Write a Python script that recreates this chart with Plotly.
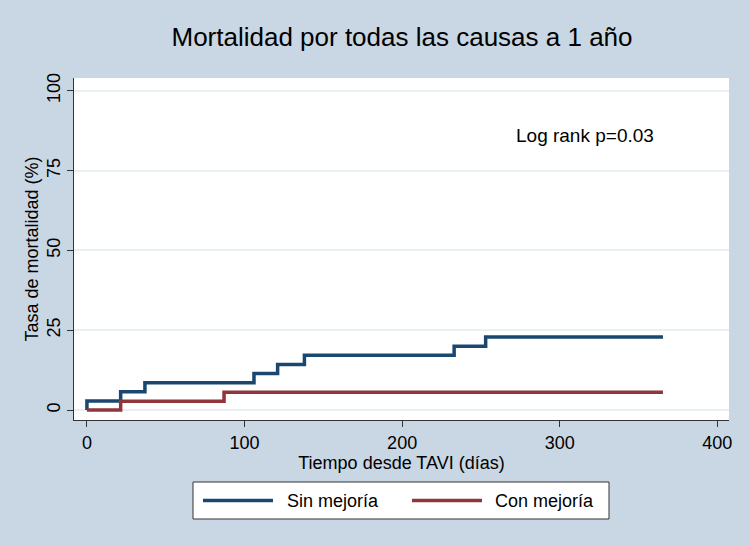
import plotly.graph_objects as go

# Data
sin_t = [0, 0, 21.4, 36.8, 106, 121, 138, 233, 253, 365.5]
sin_y = [0, 2.86, 5.71, 8.57, 11.43, 14.29, 17.14, 20.0, 22.86, 22.86]
con_t = [0, 21.4, 87, 365.5]
con_y = [0, 2.78, 5.56, 5.56]
series_names = ["Sin mejoría", "Con mejoría"]
x_ticks = [0, 100, 200, 300, 400]
y_ticks = [0, 25, 50, 75, 100]

BG = "#c9d6e3"
NAVY = "#1a476f"
MAROON = "#90353b"
FONT = "Liberation Sans, Arial, sans-serif"
colors = [NAVY, MAROON]

fig = go.Figure()
fig.add_trace(go.Scatter(x=sin_t, y=sin_y, mode="lines", line_shape="hv",
                         line=dict(color=NAVY, width=3.5), name=series_names[0]))
fig.add_trace(go.Scatter(x=con_t, y=con_y, mode="lines", line_shape="hv",
                         line=dict(color=MAROON, width=3.5), name=series_names[1]))

fig.add_annotation(x=316, y=86, xref="x", yref="y", text="Log rank p=0.03",
                   showarrow=False, font=dict(size=19, color="black", family=FONT))

# custom legend box (paper coordinates)
fig.add_shape(type="rect", xref="paper", yref="paper", x0=0.1817, x1=0.8168,
              y0=-0.2895, y1=-0.1813, line=dict(color="#333", width=1),
              fillcolor="white", layer="above")
leg_y = -0.2354
for (lx0, lx1, tx), name, col in zip([(0.1969, 0.3038, 0.3221), (0.5160, 0.6229, 0.6397)],
                                     series_names, colors):
    fig.add_shape(type="line", xref="paper", yref="paper", x0=lx0, x1=lx1,
                  y0=leg_y, y1=leg_y, line=dict(color=col, width=3.5), layer="above")
    fig.add_annotation(x=tx, y=leg_y, xref="paper", yref="paper", text=name,
                       showarrow=False, xanchor="left", yanchor="middle",
                       font=dict(size=18, color="black", family=FONT))

fig.update_layout(
    width=750, height=545,
    paper_bgcolor=BG, plot_bgcolor="white",
    margin=dict(l=74, r=21, t=78, b=125),
    font=dict(family=FONT, color="black"),
    showlegend=False,
    title=dict(text="Mortalidad por todas las causas a 1 año", x=0.536, xanchor="center",
               y=0.932, yanchor="middle", font=dict(size=26, color="black", family=FONT)),
    xaxis=dict(range=[-8.2, 407.4], tickvals=x_ticks, ticks="outside", ticklen=6,
               tickcolor="#333", showline=True, linecolor="#333", linewidth=1,
               showgrid=False, zeroline=False, tickfont=dict(size=18),
               title=dict(text="Tiempo desde TAVI (días)", font=dict(size=18), standoff=0)),
    yaxis=dict(range=[-3.1, 104], tickvals=y_ticks, ticks="outside", ticklen=6,
               tickcolor="#333", showline=True, linecolor="#333", linewidth=1,
               showgrid=True, gridcolor="#e8f0f1", gridwidth=1.5, zeroline=False,
               tickangle=-90, tickfont=dict(size=18),
               title=dict(text="Tasa de mortalidad (%)", font=dict(size=18), standoff=0)),
)

fig.write_html("out.html", config={"displayModeBar": False})
with open("out.html", "r", encoding="utf-8") as f:
    html = f.read()
html = html.replace("<head>", "<head><style>html,body{margin:0;padding:0;overflow:hidden;}</style>", 1)
with open("out.html", "w", encoding="utf-8") as f:
    f.write(html)
